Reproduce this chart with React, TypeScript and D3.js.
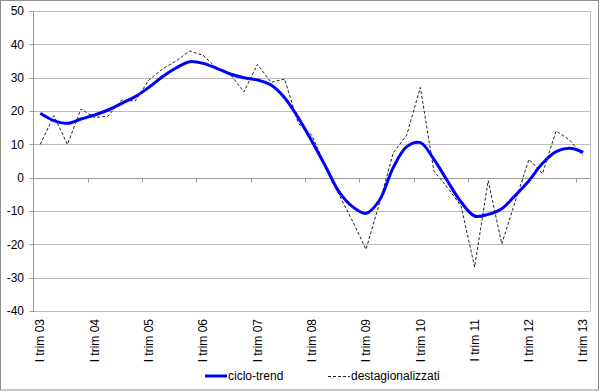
import React, { useEffect, useRef } from 'react';
import * as d3 from 'd3';

// quarterly series, I trim 2003 .. I trim 2013
const quarterLabels = [
  'I trim 03', 'I trim 04', 'I trim 05', 'I trim 06', 'I trim 07', 'I trim 08',
  'I trim 09', 'I trim 10', 'I trim 11', 'I trim 12', 'I trim 13',
];

const cicloTrend = [
  19.3, 17.1, 16.3, 17.6, 18.8, 20.3, 22.3, 24.3, 27.1, 30.3, 32.9, 34.8,
  34.3, 32.8, 31.1, 30, 29.3, 27.8, 24, 18, 11, 3.5, -4.2, -8.7, -10.7, -6.7,
  3, 9.3, 10.5, 5.5, -1, -7.3, -11.5, -11, -9.3, -5.3, -0.9, 4.3, 7.8, 8.8, 7.6,
];

const destagionalizzati = [
  10, 18.6, 10, 20.6, 18, 18.5, 23.3, 23, 29.3, 32.6, 35, 38, 36.7, 32.8, 31,
  25.7, 34, 28.6, 29.6, 16.3, 12.8, 3.5, -5, -13, -21.5, -7.5, 7.4, 12.8, 27.1,
  2, -3, -8.5, -26.8, -0.9, -19.9, -7, 5.5, 1.2, 14, 11.3, 6.5,
];

const yTicks = [50, 40, 30, 20, 10, 0, -10, -20, -30, -40];

const FONT = '"Liberation Sans", Arial, sans-serif';

const Chart: React.FC = () => {
  const svgRef = useRef<SVGSVGElement>(null);

  useEffect(() => {
    if (!svgRef.current) return;
    document.body.style.margin = '0';

    const width = 600;
    const height = 392;
    const left = 33.5;
    const right = 590;
    const top = 11;
    const bottom = 311;
    const n = cicloTrend.length;

    const svg = d3.select(svgRef.current)
      .attr('width', width)
      .attr('height', height)
      .html('');

    svg.append('rect')
      .attr('x', 0).attr('y', 0).attr('width', width).attr('height', height)
      .attr('fill', '#fff');

    // outer frame
    svg.append('rect')
      .attr('x', 0.5).attr('y', 0.5).attr('width', 598).attr('height', 389.5)
      .attr('fill', 'none').attr('stroke', '#8c8c8c');

    const x = d3.scaleLinear().domain([-0.5, n - 0.5]).range([left, right]);
    const y = d3.scaleLinear().domain([-40, 50]).range([bottom, top]);

    // gridlines
    svg.append('g').selectAll('line')
      .data(yTicks)
      .join('line')
      .attr('x1', left).attr('x2', right)
      .attr('y1', d => Math.round(y(d)) + 0.5).attr('y2', d => Math.round(y(d)) + 0.5)
      .attr('stroke', '#bdbdbd');

    // plot area right border
    svg.append('line')
      .attr('x1', right + 0.5).attr('x2', right + 0.5)
      .attr('y1', y(50)).attr('y2', y(-40))
      .attr('stroke', '#bdbdbd');

    // y axis
    svg.append('line')
      .attr('x1', left).attr('x2', left)
      .attr('y1', y(50)).attr('y2', y(-40) + 1)
      .attr('stroke', '#9a9a9a');

    svg.append('g').selectAll('line')
      .data(yTicks)
      .join('line')
      .attr('x1', left - 4).attr('x2', left)
      .attr('y1', d => Math.round(y(d)) + 0.5).attr('y2', d => Math.round(y(d)) + 0.5)
      .attr('stroke', '#9a9a9a');

    svg.append('g').selectAll('text')
      .data(yTicks)
      .join('text')
      .attr('x', 24)
      .attr('y', d => y(d))
      .attr('dy', '0.35em')
      .attr('text-anchor', 'end')
      .style('font-family', FONT)
      .style('font-size', '12px')
      .attr('fill', '#000')
      .text(d => d);

    // category axis crossing at 0
    const y0 = Math.round(y(0)) + 0.5;
    svg.append('line')
      .attr('x1', left).attr('x2', right)
      .attr('y1', y0).attr('y2', y0)
      .attr('stroke', '#9a9a9a');

    const tickIdx = d3.range(3.5, n - 1, 4);
    svg.append('g').selectAll('line')
      .data(tickIdx)
      .join('line')
      .attr('x1', d => Math.round(x(d)) + 0.5).attr('x2', d => Math.round(x(d)) + 0.5)
      .attr('y1', y0).attr('y2', y0 + 4)
      .attr('stroke', '#9a9a9a');

    // category labels (low position)
    svg.append('g').selectAll('text')
      .data(quarterLabels)
      .join('text')
      .attr('transform', (_, i) => `translate(${x(i * 4)},${bottom + 8}) rotate(-90)`)
      .attr('dy', '0.35em')
      .attr('text-anchor', 'end')
      .style('font-family', FONT)
      .style('font-size', '12px')
      .attr('fill', '#000')
      .text(d => d);

    // series
    const straight = d3.line<number>()
      .x((_, i) => x(i))
      .y(d => y(d));

    const smooth = d3.line<number>()
      .x((_, i) => x(i))
      .y(d => y(d))
      .curve(d3.curveCatmullRom.alpha(0.5));

    svg.append('path')
      .datum(destagionalizzati)
      .attr('d', straight)
      .attr('fill', 'none')
      .attr('stroke', '#222')
      .attr('stroke-width', 1)
      .attr('stroke-dasharray', '3,2');

    svg.append('path')
      .datum(cicloTrend)
      .attr('d', smooth)
      .attr('fill', 'none')
      .attr('stroke', '#0000ff')
      .attr('stroke-width', 3)
      .attr('stroke-linejoin', 'round');

    // legend
    const legend = svg.append('g');
    legend.append('line')
      .attr('x1', 205).attr('x2', 227).attr('y1', 376).attr('y2', 376)
      .attr('stroke', '#0000ff').attr('stroke-width', 3);
    legend.append('text')
      .attr('x', 228).attr('y', 376).attr('dy', '0.35em')
      .style('font-family', FONT).style('font-size', '12px')
      .text('ciclo-trend');
    legend.append('line')
      .attr('x1', 328).attr('x2', 350).attr('y1', 376.5).attr('y2', 376.5)
      .attr('stroke', '#222').attr('stroke-dasharray', '3,2');
    legend.append('text')
      .attr('x', 351).attr('y', 376).attr('dy', '0.35em')
      .style('font-family', FONT).style('font-size', '12px')
      .text('destagionalizzati');
  }, []);

  return <svg ref={svgRef} style={{ display: 'block' }}></svg>;
};

export default function App() {
  return <Chart />;
}
